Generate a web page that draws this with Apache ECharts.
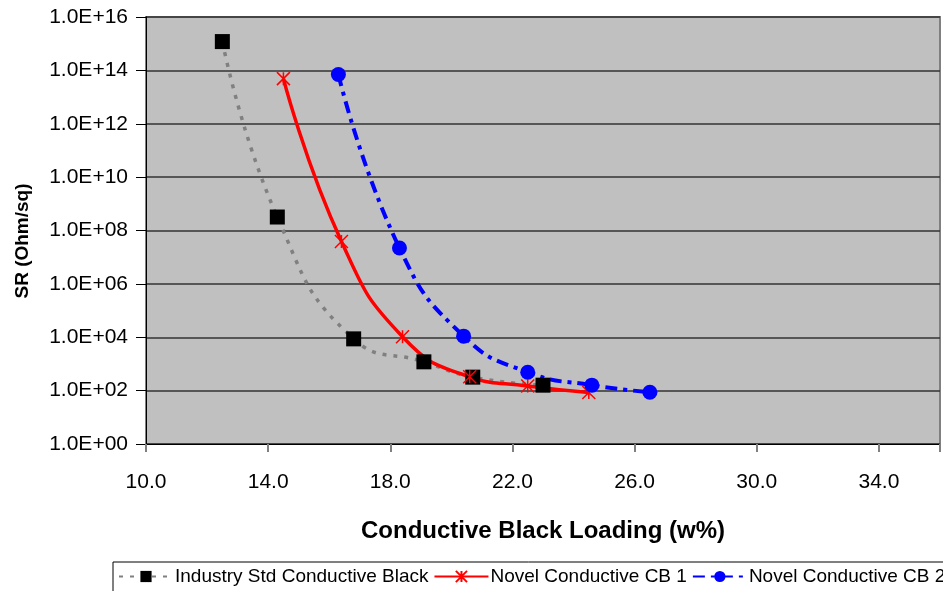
<!DOCTYPE html>
<html>
<head>
<meta charset="utf-8">
<script src="https://cdn.jsdelivr.net/npm/echarts@6/dist/echarts.min.js"></script>
<style>
html,body{margin:0;padding:0;background:#fff;}
#chart{width:943px;height:591px;}
</style>
</head>
<body>
<div id="chart"></div>
<script>
// values
var industryX = [12.5, 14.3, 16.8, 19.1, 20.7, 23.0];
var industryY = [1.2e15, 3.2e8, 8.7e3, 1.2e3, 3.2e2, 1.6e2];
var cb1X = [14.5, 16.4, 18.4, 20.6, 22.5, 24.5];
var cb1Y = [4.9e13, 3.9e7, 1.05e4, 3.3e2, 1.5e2, 85];
var cb2X = [16.3, 18.3, 20.4, 22.5, 24.6, 26.5];
var cb2Y = [7e13, 2.2e7, 1.1e4, 4.9e2, 1.6e2, 87];
var names = ['Industry Std Conductive Black', 'Novel Conductive CB 1', 'Novel Conductive CB 2'];

function pairs(xs, ys){
	var out = [];
	for(var i = 0; i < xs.length; i++){
		out.push([xs[i], ys[i]]);
	}
	return out;
}

var font = 'Liberation Sans, Arial, sans-serif';
var myChart = echarts.init(document.getElementById('chart'));

option = {
	backgroundColor: '#fff',
	animation: false,
	grid: {
		left: 146, top: 17, right: 3, bottom: 147,
		show: true,
		backgroundColor: '#C0C0C0',
		borderColor: '#808080',
		borderWidth: 2
	},
	legend: {
		left: 113, top: 562,
		width: 1100,
		orient: 'horizontal',
		itemWidth: 54, itemHeight: 14,
		itemGap: 5,
		padding: [5, 5, 10, 5],
		borderColor: '#000', borderWidth: 1,
		textStyle: {fontFamily: font, fontSize: 19, color: '#000', padding: [0, 0, 0, -3]},
		data: names
	},
	xAxis: {
		type: 'value',
		min: 10, max: 36, interval: 4,
		name: 'Conductive Black Loading (w%)',
		nameLocation: 'middle',
		nameGap: 75,
		nameTextStyle: {fontFamily: font, fontSize: 24, fontWeight: 'bold', color: '#000'},
		axisLine: {lineStyle: {color: '#000', width: 1}},
		axisTick: {show: true, length: 8, lineStyle: {color: '#808080', width: 2}},
		axisLabel: {
			fontFamily: font, fontSize: 21, color: '#000', margin: 28,
			formatter: function(v){ return v >= 36 ? '' : v.toFixed(1); }
		},
		splitLine: {show: false}
	},
	yAxis: {
		type: 'log',
		logBase: 100,
		min: 1, max: 1e16,
		name: 'SR (Ohm/sq)',
		nameLocation: 'middle',
		nameGap: 114,
		nameRotate: 90,
		nameTextStyle: {fontFamily: font, fontSize: 19, fontWeight: 'bold', color: '#000', padding: [0, 21, 0, 0]},
		axisLine: {show: true, lineStyle: {color: '#000', width: 1}},
		axisTick: {show: true, length: 10, lineStyle: {color: '#000'}},
		axisLabel: {
			fontFamily: font, fontSize: 21, color: '#000', margin: 18,
			formatter: function(v){
				var e = Math.round(Math.log(v) / Math.LN10);
				return '1.0E+' + (e < 10 ? '0' : '') + e;
			}
		},
		splitLine: {show: true, lineStyle: {color: '#333', width: 1.5}}
	},
	series: [
		{
			name: names[0],
			type: 'line',
			smooth: 0.5,
			data: pairs(industryX, industryY),
			symbol: 'rect',
			symbolSize: 15,
			itemStyle: {color: '#000'},
			lineStyle: {color: '#808080', width: 3.5, type: [4, 7]}
		},
		{
			name: names[1],
			type: 'line',
			smooth: 0.5,
			data: pairs(cb1X, cb1Y),
			symbol: 'path://M0,0L10,10M10,0L0,10M5,0L5,10',
			symbolSize: 13,
			itemStyle: {color: 'rgba(0,0,0,0)', borderColor: '#FF0000', borderWidth: 1.5},
			lineStyle: {color: '#FF0000', width: 3.5}
		},
		{
			name: names[2],
			type: 'line',
			smooth: 0.5,
			data: pairs(cb2X, cb2Y),
			symbol: 'circle',
			symbolSize: 15,
			itemStyle: {color: '#0000FF'},
			lineStyle: {color: '#0000FF', width: 4, type: [12, 6, 4, 6]}
		}
	]
};

myChart.setOption(option);
</script>
</body>
</html>
